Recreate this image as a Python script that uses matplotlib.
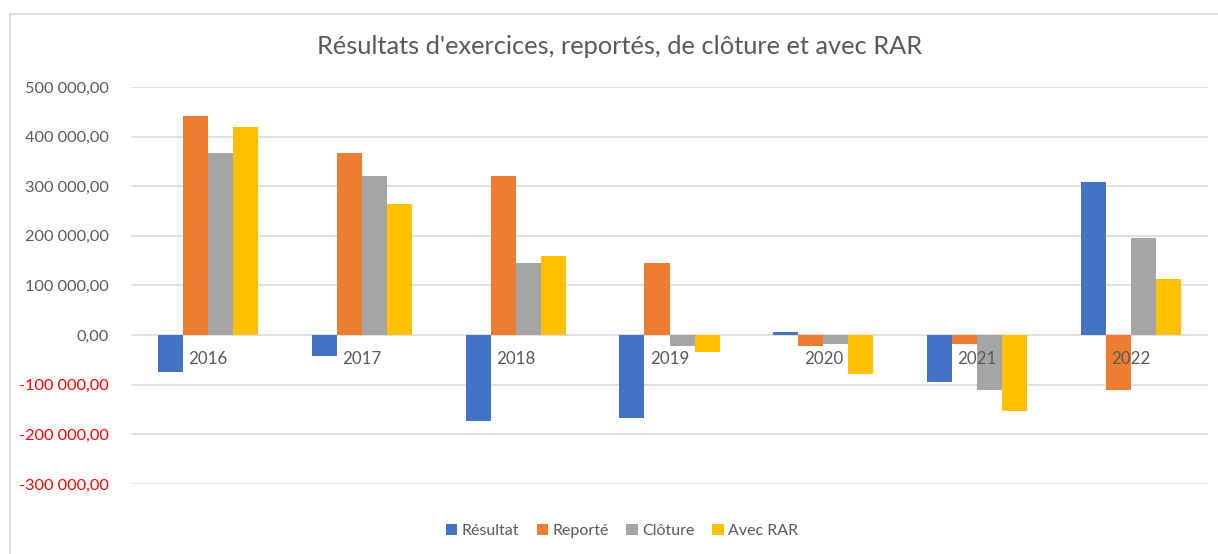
import numpy as np
import matplotlib
matplotlib.use('Agg')
import matplotlib.pyplot as plt
from matplotlib.lines import Line2D

plt.rcParams['font.family'] = ['Lato', 'DejaVu Sans']

years = ['2016', '2017', '2018', '2019', '2020', '2021', '2022']
resultat = [-74000, -41500, -174000, -168000, 6000, -95000, 308000]
reporte = [442000, 367000, 321000, 146000, -22000, -17000, -111000]
cloture = [367000, 321000, 146000, -22000, -17000, -111000, 195000]
avec_rar = [420000, 265000, 159000, -34000, -79000, -153000, 114000]

series = [('Résultat', resultat, '#4472C4'),
          ('Reporté', reporte, '#ED7D31'),
          ('Clôture', cloture, '#A5A5A5'),
          ('Avec RAR', avec_rar, '#FFC000')]

fig = plt.figure(figsize=(12.18, 5.54), dpi=100)
ax = fig.add_axes([131 / 1218, 1 - 484 / 554, (1208 - 131) / 1218, (484 - 87) / 554])

x = np.arange(len(years))
w = 25 / 153.8
for k, (name, vals, col) in enumerate(series):
    ax.bar(x + (k - 1.5) * w, vals, width=w, color=col, label=name, zorder=3)

ax.set_xlim(-0.5, len(years) - 0.5)
ax.set_ylim(-300000, 500000)
ticks = np.arange(-300000, 500001, 100000)
ax.set_yticks(ticks)


def fmt(v):
    return f"{int(v):,}".replace(",", " ") + ",00"


ax.set_yticklabels([fmt(t) for t in ticks])
for t, lab in zip(ticks, ax.get_yticklabels()):
    lab.set_color('#FF0000' if t < 0 else '#595959')
ax.tick_params(axis='y', length=0, pad=16, labelsize=11.7)
ax.set_xticks([])
ax.grid(axis='y', color='#D9D9D9', linewidth=1.1, zorder=0)
for s in ax.spines.values():
    s.set_visible(False)

for i, yr in enumerate(years):
    ax.annotate(yr, (i, 0), xytext=(0, -24), textcoords='offset pixels',
                ha='center', va='center', fontsize=12.2, color='#595959', zorder=4)

fig.text(620 / 1218, 1 - 47 / 554, "Résultats d'exercices, reportés, de clôture et avec RAR",
         ha='center', va='center', fontsize=18.3, color='#595959')

ax.legend(loc='center', bbox_to_anchor=(622 / 1218, 1 - 531 / 554),
          bbox_transform=fig.transFigure, ncol=4, frameon=False,
          fontsize=11.5, labelcolor='#595959', handlelength=0.7, handleheight=0.7,
          handletextpad=0.3, columnspacing=1.1)

fig.add_artist(Line2D([10 / 1218, 1], [1 - 14 / 554, 1 - 14 / 554], color='#D9D9D9', linewidth=1.2))
fig.add_artist(Line2D([10 / 1218, 10 / 1218], [0, 1 - 14 / 554], color='#D9D9D9', linewidth=1.2))

fig.savefig('out.png', dpi=100, facecolor='white')
